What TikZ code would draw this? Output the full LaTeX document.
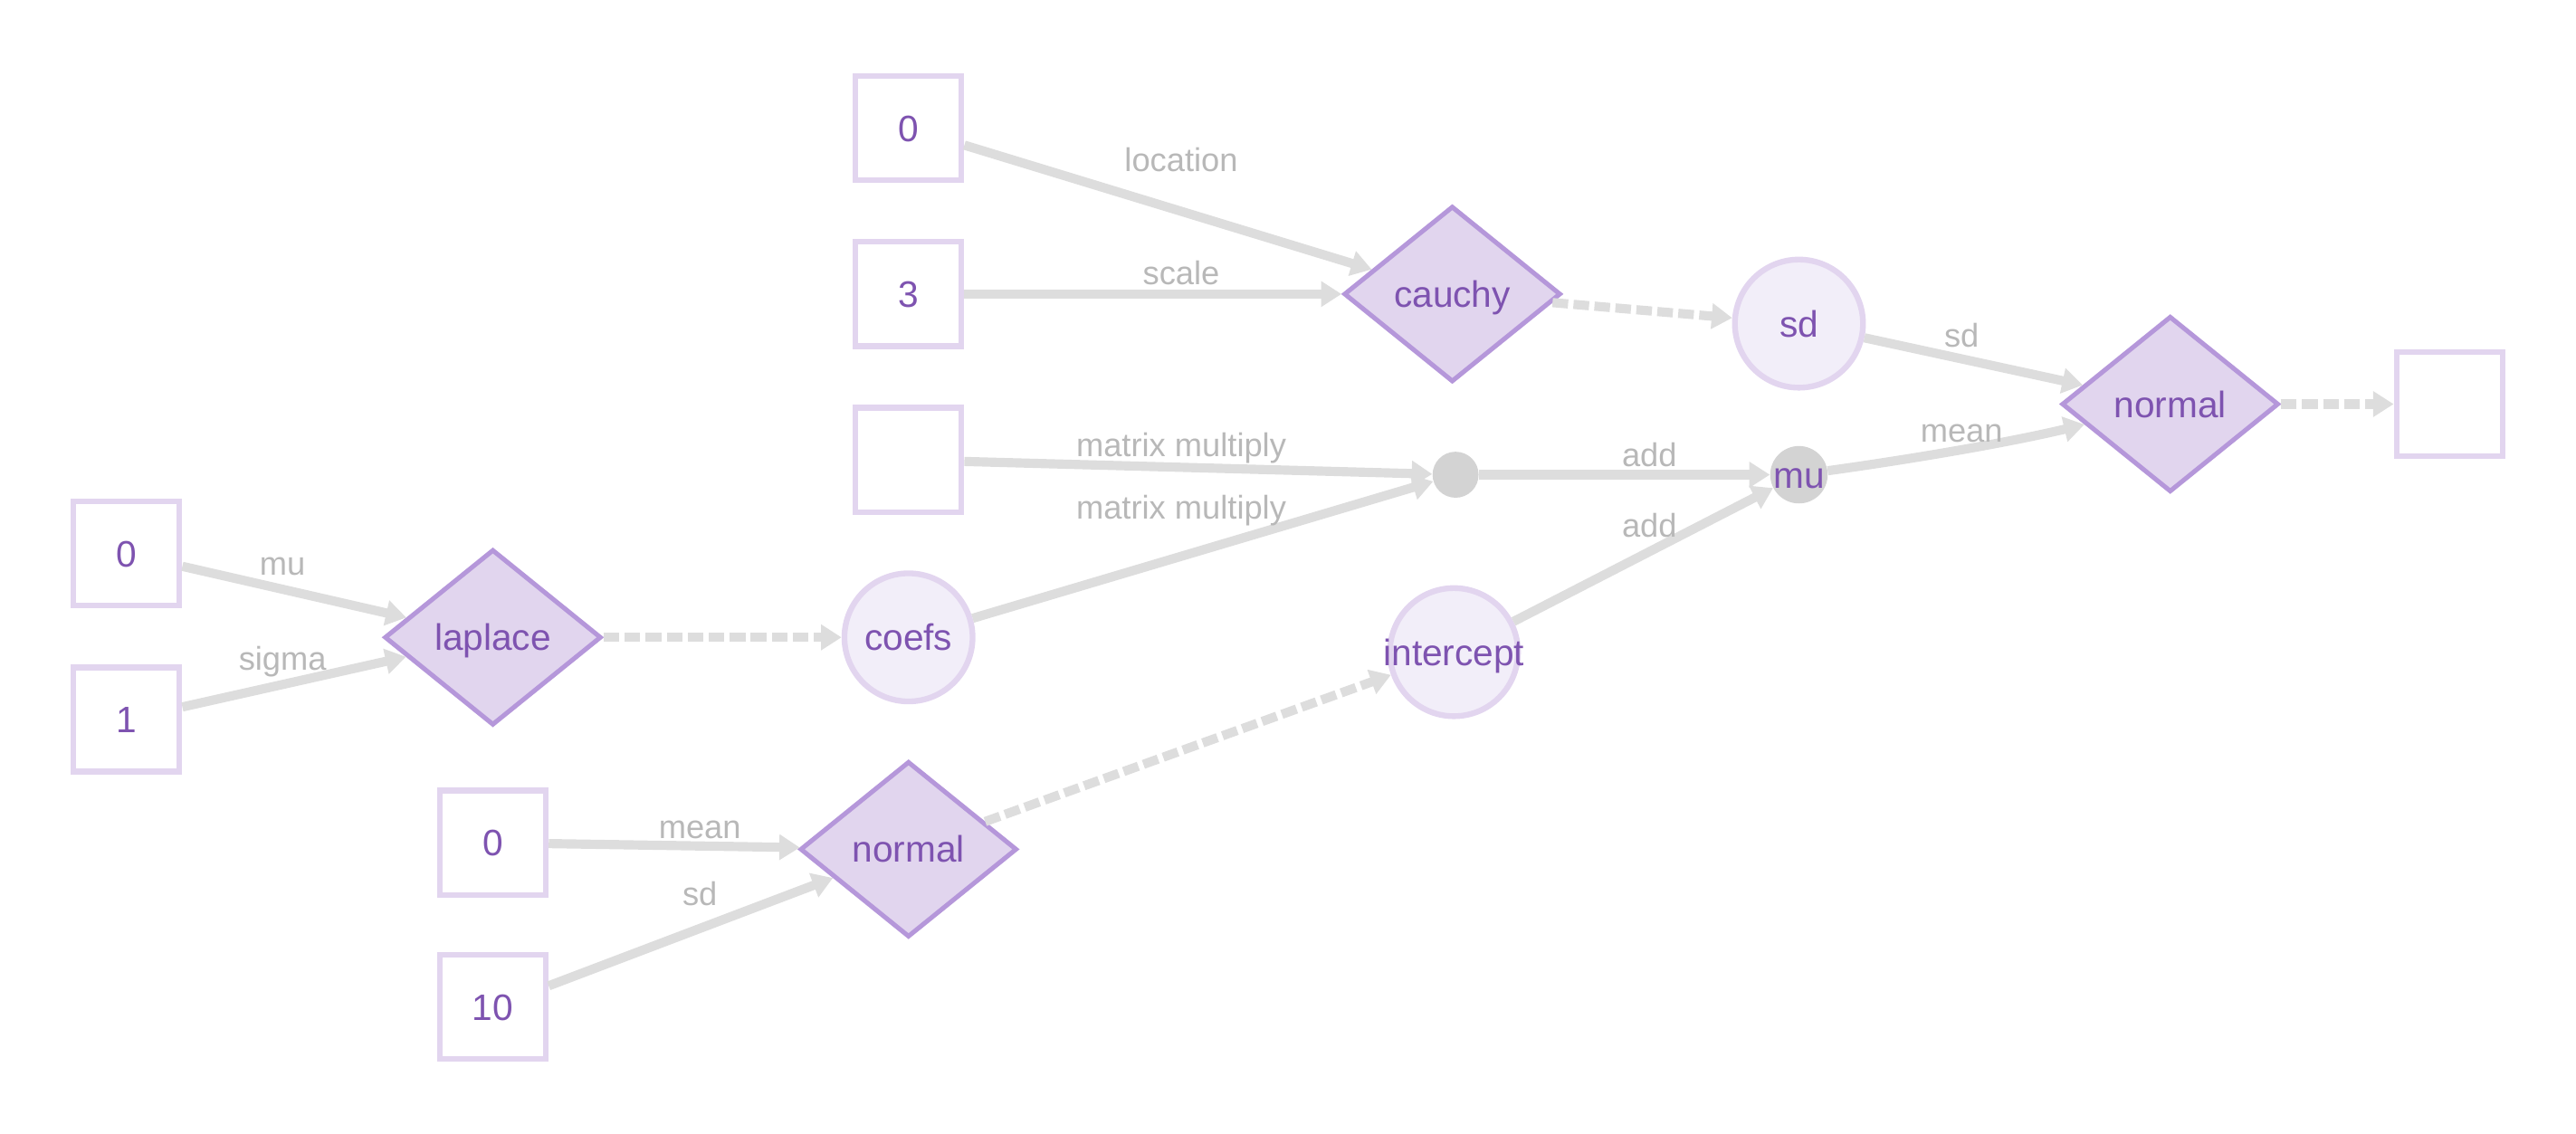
\documentclass[tikz,border=0pt]{standalone}
\usepackage{fontspec}
\setmainfont{Liberation Sans}
\usetikzlibrary{shapes.geometric,arrows.meta}
\definecolor{txtpurple}{HTML}{7E53B0}
\definecolor{boxline}{HTML}{E2D5EF}
\definecolor{diafill}{HTML}{E1D5EE}
\definecolor{dialine}{HTML}{B597DA}
\definecolor{circfill}{HTML}{F2EEF9}
\definecolor{edgecol}{HTML}{DDDDDD}
\definecolor{lblcol}{HTML}{B8B8B8}
\definecolor{dotcol}{HTML}{D3D3D3}
\tikzset{
  ntext/.style={text=txtpurple, font=\fontsize{22.4}{26}\selectfont, text height=16pt, text depth=0pt},
  databox/.style={ntext, draw=boxline, line width=3.5pt, fill=white, minimum width=64.5pt, minimum height=63.5pt, inner sep=0pt},
  distnode/.style={ntext, diamond, draw=dialine, fill=diafill, line width=2.8pt, minimum width=132pt, minimum height=107pt, inner sep=0pt, shape aspect=1.22},
  varnode/.style={ntext, circle, draw=boxline, fill=circfill, line width=3.5pt, minimum size=78pt, inner sep=0pt},
  opnode/.style={ntext, circle, fill=dotcol, minimum size=28pt, inner sep=0pt},
  lbl/.style={text=lblcol, font=\fontsize{20}{24}\selectfont, inner sep=0pt, text height=14.4pt, text depth=0pt},
  edge/.style={draw=edgecol, line width=5.6pt, -{Triangle[length=12.5pt,width=15pt]}},
  dedge/.style={edge, dash pattern=on 9.5pt off 3.3pt}
}
\begin{document}
\begin{tikzpicture}[x=1pt,y=-1pt]
\useasboundingbox (0,0) rectangle (1568,690);
% data boxes
\node[databox] (b0t) at (553,78) {0};
\node[databox] (b3) at (553,179) {3};
\node[databox] (bx) at (553,280) {};
\node[databox] (b0l) at (77,337) {0};
\node[databox] (b1) at (77,438) {1};
\node[databox] (b0b) at (300,513) {0};
\node[databox] (b10) at (300,613) {10};
\node[databox] (bout) at (1491,246) {};
% distributions
\node[distnode] (cauchy) at (884,179) {cauchy};
\node[distnode] (laplace) at (300,388) {laplace};
\node[distnode] (normB) at (553,517) {normal};
\node[distnode] (normR) at (1321,246) {normal};
% variables
\node[varnode] (sd) at (1095,197) {sd};
\node[varnode] (coefs) at (553,388) {coefs};
\node[varnode] (intercept) at (885,397) {\makebox[0pt]{intercept}};
% operations
\node[opnode] (mm) at (886,289) {};
\node[opnode] (mu) at (1095,289) {mu};
% edges
\draw[edge] (b0t) -- (cauchy);
\draw[edge] (b3) -- (cauchy);
\draw[dedge] (cauchy) -- (sd);
\draw[edge] (sd) -- (normR);
\draw[edge] (bx) -- (mm);
\draw[edge] (coefs) -- (mm);
\draw[edge] (mm) -- (mu);
\draw[edge] (intercept) -- (mu);
\draw[edge] (mu) .. controls (1160,280) and (1220,270) .. (normR);
\draw[dedge] (normR) -- (bout);
\draw[edge] (b0l) -- (laplace);
\draw[edge] (b1) -- (laplace);
\draw[dedge] (laplace) -- (coefs);
\draw[edge] (b0b) -- (normB);
\draw[edge] (b10) -- (normB);
\draw[dedge] (normB) -- (intercept);
% edge labels
\node[lbl] (l1) at (719,97) {location};
\node[lbl] (l2) at (719,166) {scale};
\node[lbl] (l3) at (719,271) {matrix multiply};
\node[lbl] (l4) at (719,309) {matrix multiply};
\node[lbl] (l5) at (1004,277) {add};
\node[lbl] (l6) at (1004,320) {add};
\node[lbl] (l7) at (1194,204) {sd};
\node[lbl] (l8) at (1194,262) {mean};
\node[lbl] (l9) at (172,343) {mu};
\node[lbl] (l10) at (172,401) {sigma};
\node[lbl] (l11) at (426,503) {mean};
\node[lbl] (l12) at (426,544) {sd};
\end{tikzpicture}
\end{document}
